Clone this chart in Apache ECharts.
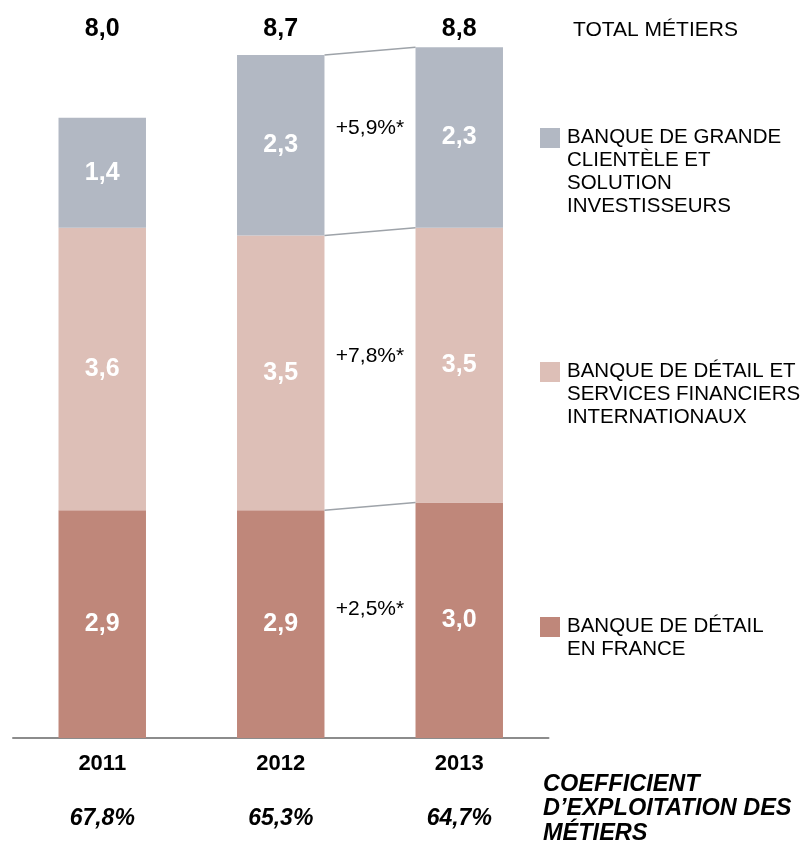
<!DOCTYPE html>
<html>
<head>
<meta charset="utf-8">
<title>Revenus des métiers</title>
<script src="https://cdn.jsdelivr.net/npm/echarts@6/dist/echarts.min.js"></script>
<style>
  html, body { margin: 0; padding: 0; background: #ffffff; }
  #chart { width: 806px; height: 850px; }
</style>
</head>
<body>
<div id="chart"></div>
<script>
// Years on the category axis
const years = ['2011', '2012', '2013'];

// Revenue by business line (Md€), stacked bottom to top
const retailFrance = [2.9, 2.9, 3.0];
const retailInternational = [3.6, 3.5, 3.5];
const corporateInvestment = [1.4, 2.3, 2.3];

// Totals printed above each stack
const totals = [8.0, 8.7, 8.8];

// Cost/income ratio per year
const costIncome = [67.8, 65.3, 64.7];

// 2012 -> 2013 growth per business line (bottom to top), in %
const growth = [2.5, 7.8, 5.9];

const seriesNames = [
  'BANQUE DE DÉTAIL EN FRANCE',
  'BANQUE DE DÉTAIL ET SERVICES FINANCIERS INTERNATIONAUX',
  'BANQUE DE GRANDE CLIENTÈLE ET SOLUTION INVESTISSEURS'
];
const legendLines = [
  'BANQUE DE DÉTAIL\nEN FRANCE',
  'BANQUE DE DÉTAIL ET\nSERVICES FINANCIERS\nINTERNATIONAUX',
  'BANQUE DE GRANDE\nCLIENTÈLE ET\nSOLUTION\nINVESTISSEURS'
];
const colors = ['#BF877A', '#DDBFB7', '#B2B8C3'];

const FONT = '"Liberation Sans", Arial, Helvetica, sans-serif';
const BAR_WIDTH_RATIO = 0.49;

const fr = v => v.toFixed(1).replace('.', ',');

const stacks = [retailFrance, retailInternational, corporateInvestment];

// Segment bounds for 2012 (index 1) and 2013 (index 2), used by the connectors
const connectorData = [];
(function () {
  let lo12 = 0, lo13 = 0;
  for (let k = 0; k < stacks.length; k++) {
    const hi12 = lo12 + stacks[k][1];
    const hi13 = lo13 + stacks[k][2];
    connectorData.push([k, lo12, hi12, lo13, hi13, growth[k]]);
    lo12 = hi12; lo13 = hi13;
  }
})();

const chart = echarts.init(document.getElementById('chart'), null, { renderer: 'canvas' });

const barSeries = stacks.map((vals, i) => ({
  name: seriesNames[i],
  type: 'bar',
  stack: 'metiers',
  barWidth: (BAR_WIDTH_RATIO * 100) + '%',
  data: vals,
  itemStyle: { color: colors[i] },
  label: {
    show: true,
    position: 'inside',
    color: '#ffffff',
    fontFamily: FONT,
    fontWeight: 'bold',
    fontSize: 25,
    formatter: p => fr(p.value)
  },
  emphasis: { disabled: true },
  silent: true
}));

const connectorSeries = {
  type: 'custom',
  silent: true,
  data: connectorData,
  z: 5,
  renderItem: function (params, api) {
    const half = api.size([1, 0])[0] * BAR_WIDTH_RATIO / 2;
    const a = api.coord([1, api.value(2)]);
    const b = api.coord([2, api.value(4)]);
    const aMid = api.coord([1, (api.value(1) + api.value(2)) / 2]);
    const bMid = api.coord([2, (api.value(3) + api.value(4)) / 2]);
    const x1 = a[0] + half, x2 = b[0] - half;
    const g = api.value(5);
    return {
      type: 'group',
      children: [
        {
          type: 'line',
          shape: { x1: x1, y1: a[1], x2: x2, y2: b[1] },
          style: { stroke: '#9EA3A9', lineWidth: 1.5 }
        },
        {
          type: 'text',
          x: (x1 + x2) / 2,
          y: (aMid[1] + bMid[1]) / 2 - 13,
          style: {
            text: '+' + fr(g) + '%*',
            fill: '#000000',
            font: '21px ' + FONT,
            align: 'center',
            verticalAlign: 'middle'
          }
        }
      ]
    };
  }
};

chart.setOption({
  animation: false,
  backgroundColor: '#ffffff',
  grid: { left: 13, right: 257.5, top: 31.5, bottom: 112, containLabel: false },
  xAxis: {
    type: 'category',
    data: years,
    axisLine: { show: true, lineStyle: { color: '#8C8C8C', width: 2 } },
    axisTick: { show: false },
    axisLabel: {
      margin: 13,
      interval: 0,
      formatter: (v, i) => '{y|' + v + '}\n{p|' + fr(costIncome[i]) + '%}',
      rich: {
        y: { fontFamily: FONT, fontWeight: 'bold', fontSize: 22, color: '#000', lineHeight: 26 },
        p: { fontFamily: FONT, fontWeight: 'bold', fontStyle: 'italic', fontSize: 23, color: '#000', lineHeight: 83 }
      }
    }
  },
  yAxis: {
    type: 'value',
    min: 0,
    max: 9,
    show: false,
    splitLine: { show: false }
  },
  series: barSeries.concat([connectorSeries])
});

// Totals above the stacks, legend and side captions
const graphics = [];
years.forEach((y, i) => {
  const px = chart.convertToPixel({ xAxisIndex: 0 }, y);
  graphics.push({
    type: 'text',
    x: px,
    y: 29,
    style: {
      text: fr(totals[i]),
      fill: '#000',
      font: 'bold 25px ' + FONT,
      align: 'center',
      verticalAlign: 'middle'
    }
  });
});

graphics.push({
  type: 'text',
  x: 573,
  y: 30,
  style: {
    text: 'TOTAL MÉTIERS',
    fill: '#000',
    font: '21px ' + FONT,
    align: 'left',
    verticalAlign: 'middle'
  }
});

// Legend entries, top to bottom: corporate, international, France
const legendCenters = [627, 372, 138];
for (let i = stacks.length - 1; i >= 0; i--) {
  const cy = legendCenters[i];
  graphics.push({
    type: 'rect',
    shape: { x: 540, y: cy - 10, width: 20, height: 20 },
    style: { fill: colors[i] }
  });
  graphics.push({
    type: 'text',
    x: 567,
    y: cy - 12,
    style: {
      text: legendLines[i],
      fill: '#000',
      font: '20.5px ' + FONT,
      lineHeight: 23,
      align: 'left',
      verticalAlign: 'top'
    }
  });
}

graphics.push({
  type: 'text',
  x: 543,
  y: 772,
  style: {
    text: 'COEFFICIENT\nD\u2019EXPLOITATION DES\nMÉTIERS',
    fill: '#000',
    font: 'italic bold 23.5px ' + FONT,
    lineHeight: 24.5,
    align: 'left',
    verticalAlign: 'top'
  }
});

chart.setOption({ graphic: graphics });
</script>
</body>
</html>
